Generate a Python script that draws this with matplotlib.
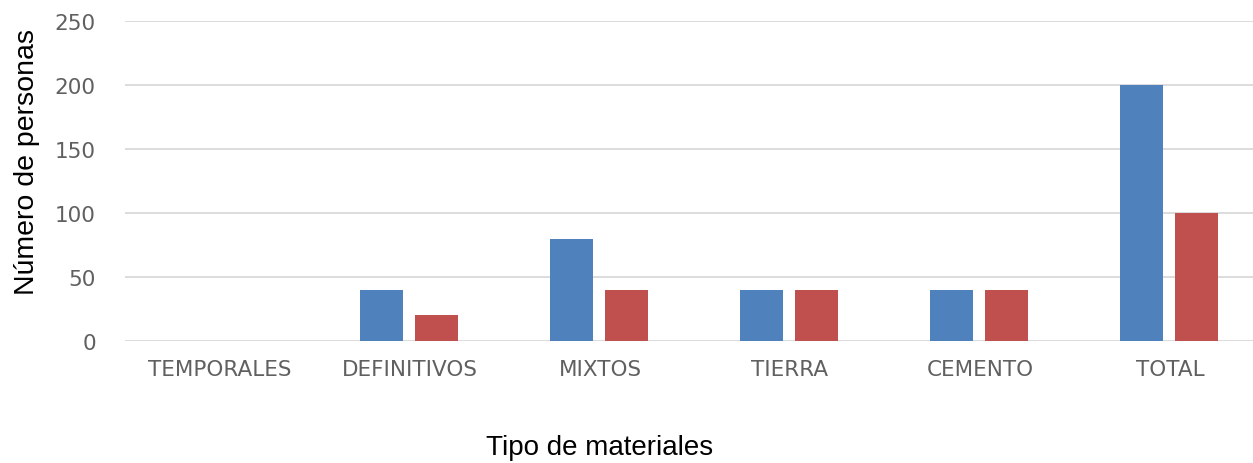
import matplotlib
matplotlib.use("Agg")
import matplotlib.pyplot as plt
import numpy as np

categories = ["TEMPORALES", "DEFINITIVOS", "MIXTOS", "TIERRA", "CEMENTO", "TOTAL"]
series_blue = [0, 40, 80, 40, 40, 200]
series_red = [0, 20, 40, 40, 40, 100]
y_ticks = [0, 50, 100, 150, 200, 250]

W, H = 1253, 464
fig = plt.figure(figsize=(W / 100, H / 100), dpi=100)
ax = fig.add_axes([125 / W, 1 - 342 / H, 1 - 125 / W, (342 - 22) / H])

x = np.arange(len(categories))
bw = 0.226
ax.bar(x - 0.148, series_blue, width=bw, color="#4F81BD", linewidth=0, zorder=3)
ax.bar(x + 0.138, series_red, width=bw, color="#C0504D", linewidth=0, zorder=3)

ax.set_xlim(-0.5, (W - 220) / 190)
ax.set_ylim(0, 250)
ax.set_yticks(y_ticks)
ax.set_xticks(x)
ax.set_xticklabels(categories)
ax.yaxis.grid(True, color="#D9D9D9", linewidth=1.3, zorder=0)
ax.set_axisbelow(True)
for s in ax.spines.values():
    s.set_visible(False)
ax.tick_params(axis="both", length=0, labelcolor="#606060", labelsize=15.5)
ax.tick_params(axis="x", pad=13)
ax.tick_params(axis="y", pad=21)
for lab in ax.get_xticklabels() + ax.get_yticklabels():
    lab.set_fontfamily("DejaVu Sans")

fig.text(27 / W, 1 - 162 / H, "Número de personas", rotation=90,
         ha="center", va="center", fontsize=20.5, family="Liberation Sans", color="black")
fig.text(600 / W, 1 - 448 / H, "Tipo de materiales",
         ha="center", va="center", fontsize=20, family="Liberation Sans", color="black")

fig.savefig("out.png", dpi=100)
